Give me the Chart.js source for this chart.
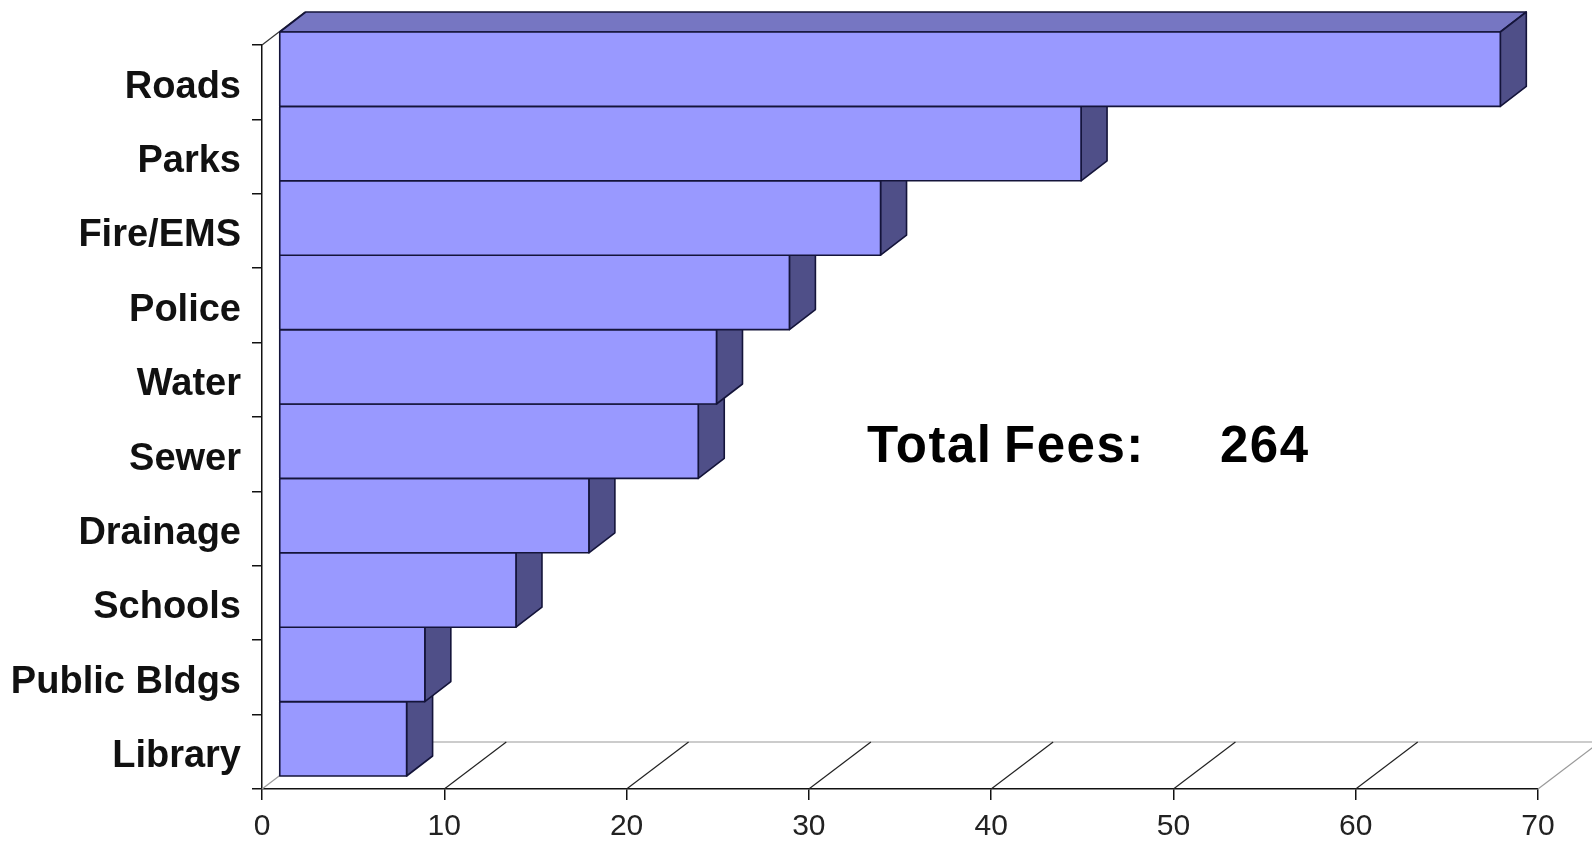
<!DOCTYPE html>
<html>
<head>
<meta charset="utf-8">
<title>Total Fees</title>
<script src="https://cdn.jsdelivr.net/npm/chart.js@4.4.1/dist/chart.umd.min.js"></script>
<style>
  html, body { margin: 0; padding: 0; background: #fff; }
  canvas { display: block; }
</style>
</head>
<body>
<canvas id="myChart" width="1592" height="841"></canvas>
<script>
const categories = ["Roads", "Parks", "Fire/EMS", "Police", "Water", "Sewer", "Drainage", "Schools", "Public Bldgs", "Library"];
const fees = [67, 44, 33, 28, 24, 23, 17, 13, 8, 7];
const xTicks = [0, 10, 20, 30, 40, 50, 60, 70];
const totalFees = fees.reduce((sum, v) => sum + v, 0);

// oblique "3D" offsets (px): floor depth, bar front, bar thickness
const floorDepth = { x: 62, y: -47 };
const barFront = { x: 17, y: -13 };
const barDepth = { x: 26, y: -20 };

const frontColor = "#9999ff";
const topColor = "#7676c2";
const sideColor = "#4f4f88";
const edgeColor = "#14143a";

const floorPlugin = {
  id: "floor3d",
  beforeDatasetsDraw(chart) {
    const { ctx, scales } = chart;
    const xs = scales.x;
    const yBottom = chart.chartArea.bottom;
    const yTop = chart.chartArea.top;
    ctx.save();
    ctx.lineWidth = 1.2;

    // back edge of the floor
    ctx.strokeStyle = "#9a9a9a";
    ctx.beginPath();
    ctx.moveTo(xs.getPixelForValue(0) + floorDepth.x, yBottom + floorDepth.y);
    ctx.lineTo(xs.getPixelForValue(70) + floorDepth.x, yBottom + floorDepth.y);
    ctx.stroke();

    // floor grid lines going back from each tick
    xTicks.forEach((v) => {
      const px = xs.getPixelForValue(v);
      ctx.strokeStyle = v === 0 || v === 70 ? "#9a9a9a" : "#222";
      ctx.beginPath();
      ctx.moveTo(px, yBottom);
      ctx.lineTo(px + floorDepth.x, yBottom + floorDepth.y);
      ctx.stroke();
    });

    // top edge of the side wall, up to the back of the bars
    const x0 = xs.getPixelForValue(0);
    ctx.strokeStyle = "#333";
    ctx.beginPath();
    ctx.moveTo(x0, yTop);
    ctx.lineTo(x0 + barFront.x + barDepth.x, yTop + barFront.y + barDepth.y);
    ctx.stroke();
    ctx.restore();
  },
  beforeDatasetDraw() {
    // bars are drawn by afterDatasetsDraw as boxes
    return false;
  },
  afterDatasetsDraw(chart) {
    const { ctx } = chart;
    const bars = chart.getDatasetMeta(0).data;
    ctx.save();
    ctx.lineWidth = 1.6;
    ctx.strokeStyle = edgeColor;
    ctx.lineJoin = "round";

    // bottom bar first so the bar above covers its top face
    for (let i = bars.length - 1; i >= 0; i--) {
      const bar = bars[i];
      const x0 = bar.base + barFront.x;
      const x1 = bar.x + barFront.x;
      const yT = bar.y - bar.height / 2 + barFront.y;
      const yB = bar.y + bar.height / 2 + barFront.y;

      ctx.fillStyle = topColor;
      ctx.beginPath();
      ctx.moveTo(x0, yT);
      ctx.lineTo(x0 + barDepth.x, yT + barDepth.y);
      ctx.lineTo(x1 + barDepth.x, yT + barDepth.y);
      ctx.lineTo(x1, yT);
      ctx.closePath();
      ctx.fill();
      ctx.stroke();

      ctx.fillStyle = sideColor;
      ctx.beginPath();
      ctx.moveTo(x1, yT);
      ctx.lineTo(x1 + barDepth.x, yT + barDepth.y);
      ctx.lineTo(x1 + barDepth.x, yB + barDepth.y);
      ctx.lineTo(x1, yB);
      ctx.closePath();
      ctx.fill();
      ctx.stroke();

      ctx.fillStyle = frontColor;
      ctx.fillRect(x0, yT, x1 - x0, yB - yT);
      ctx.strokeRect(x0, yT, x1 - x0, yB - yT);
    }
    ctx.restore();
  },
  afterDraw(chart) {
    const { ctx } = chart;
    ctx.save();
    ctx.fillStyle = "#000";
    ctx.font = "bold 51px 'Liberation Sans', Arial, sans-serif";
    ctx.textBaseline = "alphabetic";
    ctx.textAlign = "left";
    ctx.letterSpacing = "1.5px";
    ctx.fillText("Total", 867, 462);
    ctx.fillText("Fees:", 1004, 462);
    ctx.fillText(String(totalFees), 1220, 462);
    ctx.restore();
  },
};

const ctx = document.getElementById("myChart");

new Chart(ctx, {
  type: "bar",
  data: {
    labels: categories,
    datasets: [
      {
        label: "Fees",
        data: fees,
        backgroundColor: frontColor,
        categoryPercentage: 1,
        barPercentage: 1,
      },
    ],
  },
  options: {
    responsive: false,
    animation: false,
    indexAxis: "y",
    layout: { padding: { top: 45, right: 54, left: 0, bottom: 0 } },
    plugins: {
      legend: { display: false },
      tooltip: { enabled: false },
    },
    scales: {
      x: {
        min: 0,
        max: 70,
        afterBuildTicks: (scale) => {
          scale.ticks = xTicks.map((v) => ({ value: v }));
        },
        afterFit: (scale) => {
          scale.height = 52;
        },
        grid: {
          drawOnChartArea: false,
          drawTicks: true,
          tickLength: 11,
          color: "#111",
          lineWidth: 1.5,
        },
        border: { display: true, color: "#111", width: 1.5 },
        ticks: {
          padding: 9,
          color: "#222",
          font: { family: "'Liberation Sans', Arial, sans-serif", size: 30 },
          maxRotation: 0,
        },
      },
      y: {
        afterFit: (scale) => {
          scale.width = 262;
        },
        grid: {
          drawOnChartArea: false,
          drawTicks: true,
          tickLength: 10,
          color: "#111",
          lineWidth: 1.5,
        },
        border: { display: true, color: "#111", width: 1.5 },
        ticks: {
          padding: 11,
          labelOffset: 5,
          color: "#111",
          font: { family: "'Liberation Sans', Arial, sans-serif", size: 38, weight: "bold" },
        },
      },
    },
  },
  plugins: [floorPlugin],
});
</script>
</body>
</html>
